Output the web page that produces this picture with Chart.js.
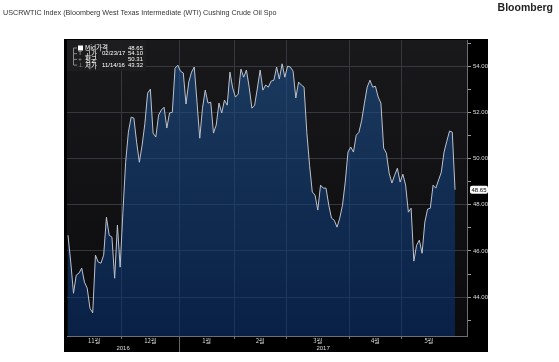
<!DOCTYPE html>
<html>
<head>
<meta charset="utf-8">
<script src="https://cdn.jsdelivr.net/npm/chart.js@4.4.1/dist/chart.umd.min.js"></script>
<style>
  html, body { margin: 0; padding: 0; background: #fff; }
  #wrap { position: relative; width: 559px; height: 362px; overflow: hidden; }
  #title { position: absolute; left: 3px; top: 8px; font: 7.2px "Liberation Sans", Arial, sans-serif; color: #333; white-space: nowrap; }
  #brand { position: absolute; right: 6px; top: 1px; font: bold 10.5px "Liberation Sans", Arial, sans-serif; color: #222; }
  canvas { position: absolute; left: 0; top: 0; }
</style>
</head>
<body>
<div id="wrap">
  <canvas id="myChart" width="559" height="362"></canvas>
  <div id="title">USCRWTIC Index (Bloomberg West Texas Intermediate (WTI) Cushing Crude Oil Spo</div>
  <div id="brand">Bloomberg</div>
</div>
<script>
  // WTI Cushing spot, one value per trading day (Nov 2016 - May 2017)
  const prices = [
    46.68, 45.52, 44.17, 44.95, 45.04, 45.26, 44.65, 44.39, 43.52, 43.32,
    45.82, 45.52, 45.47, 45.82, 47.46, 46.68, 46.60, 44.82, 47.12, 45.30,
    47.68, 49.84, 51.14, 51.79, 51.75, 50.71, 49.84, 50.58, 51.50, 52.83,
    53.00, 51.10, 50.93, 51.88, 52.10, 52.22, 51.32, 51.97, 52.00, 53.91,
    54.04, 53.78, 53.70, 52.36, 53.31, 53.74, 53.96, 52.44, 50.88, 52.18,
    52.96, 52.40, 52.44, 51.10, 51.45, 52.40, 51.97, 52.53, 52.31, 53.74,
    53.05, 52.66, 52.79, 53.87, 53.52, 53.83, 53.09, 52.18, 52.31, 53.05,
    53.83, 52.96, 53.18, 53.09, 53.35, 53.39, 53.96, 53.44, 54.10, 53.52,
    54.00, 53.96, 53.78, 52.62, 53.31, 53.18, 53.09, 51.14, 49.71, 48.55,
    48.42, 47.77, 48.85, 48.72, 48.72, 47.98, 47.42, 47.33, 47.03, 47.42,
    47.98, 48.98, 50.28, 50.50, 50.28, 51.01, 51.14, 51.66, 52.40, 53.09,
    53.39, 53.09, 53.13, 52.66, 52.40, 50.45, 50.23, 49.37, 48.94, 49.28,
    49.58, 48.98, 49.32, 48.85, 47.68, 47.85, 45.56, 46.25, 46.47, 45.90,
    47.25, 47.81, 47.85, 48.85, 48.72, 49.07, 49.41, 50.28, 50.75, 51.19,
    51.14, 48.65
  ];
  const monthLabels = ['11월', '12월', '1월', '2월', '3월', '4월', '5월'];
  const monthStarts = [0, 20, 41, 61, 80, 103, 122];
  const yearLabels = ['2016', '2017'];
  const yearStarts = [0, 41];
  const yTicks = [43, 44, 45, 46, 47, 48, 49, 50, 51, 52, 53, 54, 55];
  const legendRows = [
    ['Mid가격', '', '48.65'],
    ['고가', '02/23/17', '54.10'],
    ['평균', '', '50.31'],
    ['저가', '11/14/16', '43.32']
  ];

  const xMin = -0.364, xMax = 145.36;
  const lastIdx = prices.length - 1;
  const monthEnds = monthStarts.slice(1).map(v => v - 0.5).concat([lastIdx + 0.5]);
  const monthCenters = monthStarts.map((s, i) => (s - 0.5 + monthEnds[i]) / 2);
  const yearEnds = yearStarts.slice(1).map(v => v - 0.5).concat([xMax]);
  const yearCenters = yearStarts.map((s, i) => (Math.max(s - 0.5, xMin) + yearEnds[i]) / 2);
  const cjk = '"Noto Sans CJK KR", "Liberation Sans", Arial, sans-serif';
  const latin = '"Liberation Sans", Arial, sans-serif';

  const bloombergBg = {
    id: 'bloombergBg',
    beforeDraw(chart) {
      const { ctx, chartArea: a } = chart;
      ctx.save();
      ctx.fillStyle = '#000';
      ctx.fillRect(a.left - 3, a.top - 1, a.right - a.left + 24, a.bottom - a.top + 17);
      const g = ctx.createLinearGradient(0, a.top, 0, a.bottom);
      g.addColorStop(0, '#19191b');
      g.addColorStop(1, '#0b0b0d');
      ctx.fillStyle = g;
      ctx.fillRect(a.left, a.top, a.right - a.left, a.bottom - a.top);
      ctx.restore();
    },
    afterDraw(chart) {
      const { ctx, chartArea: a, scales } = chart;
      ctx.save();
      // year separator below axis
      yearStarts.slice(1).forEach(s => {
        const px = Math.round(scales.x.getPixelForValue(s - 0.5)) + 0.5;
        ctx.strokeStyle = '#666';
        ctx.lineWidth = 1;
        ctx.beginPath();
        ctx.moveTo(px, a.bottom);
        ctx.lineTo(px, a.bottom + 16);
        ctx.stroke();
      });
      // last price tag
      const last = prices[lastIdx];
      const py = scales.y.getPixelForValue(last);
      ctx.fillStyle = '#fff';
      ctx.beginPath();
      ctx.roundRect(a.right + 3, py - 4, 18, 8, 2);
      ctx.fill();
      ctx.fillStyle = '#000';
      ctx.font = '6px ' + latin;
      ctx.textAlign = 'center';
      ctx.textBaseline = 'middle';
      ctx.fillText(last.toFixed(2), a.right + 12, py + 0.5);
      // stats box
      const bx = a.left, by = a.top;
      ctx.fillStyle = 'rgba(30,30,32,0.95)';
      ctx.fillRect(bx, by, 79, 31);
      ctx.strokeStyle = '#888';
      ctx.beginPath();
      ctx.moveTo(bx + 6.5, by + 8);
      ctx.lineTo(bx + 6.5, by + 25);
      ctx.stroke();
      ctx.textBaseline = 'middle';
      legendRows.forEach((r, i) => {
        const ry = by + 8 + i * 5.7;
        ctx.strokeStyle = '#888';
        ctx.beginPath();
        ctx.moveTo(bx + 6.5, ry);
        ctx.lineTo(bx + 10, ry);
        ctx.stroke();
        ctx.font = '6px ' + latin;
        if (i === 0) {
          ctx.fillStyle = '#fff';
          ctx.fillRect(bx + 11, ry - 2.5, 5, 5);
        } else {
          ctx.fillStyle = '#aaa';
          ctx.textAlign = 'center';
          ctx.fillText(['', 'T', '+', '⊥'][i], bx + 13, ry);
        }
        ctx.fillStyle = '#fff';
        ctx.textAlign = 'left';
        ctx.font = '6.5px ' + cjk;
        ctx.fillText(r[0], bx + 18, ry);
        ctx.font = '6px ' + latin;
        if (r[1]) ctx.fillText(r[1], bx + 35, ry);
        ctx.textAlign = 'right';
        ctx.fillText(r[2], bx + 76, ry);
      });
      ctx.restore();
    }
  };

  const ctx = document.getElementById('myChart').getContext('2d');
  const myChart = new Chart(ctx, {
    type: 'line',
    data: {
      datasets: [{
        data: prices.map((v, i) => ({ x: i, y: v })),
        borderColor: '#bcc2cc',
        borderWidth: 1,
        pointRadius: 0,
        tension: 0,
        fill: 'start',
        backgroundColor: (c) => {
          const a = c.chart.chartArea;
          if (!a) return 'rgba(20,70,130,0.55)';
          const g = c.chart.ctx.createLinearGradient(0, a.top, 0, a.bottom);
          g.addColorStop(0, 'rgba(30,82,145,0.58)');
          g.addColorStop(1, 'rgba(8,48,110,0.58)');
          return g;
        }
      }]
    },
    options: {
      responsive: false,
      animation: false,
      devicePixelRatio: 1,
      layout: { padding: { left: 67, top: 40, right: 71, bottom: 10 } },
      plugins: { legend: { display: false }, tooltip: { enabled: false } },
      scales: {
        x: {
          type: 'linear', position: 'bottom', min: xMin, max: xMax, weight: 0,
          afterBuildTicks: s => { s.ticks = monthStarts.slice(1).map(v => ({ value: v - 0.5 })); },
          ticks: { display: false },
          grid: { color: '#35383f', tickLength: 3, tickColor: '#777' },
          border: { color: '#6a6e76' },
          afterFit: s => { s.height = 0; }
        },
        xm: {
          type: 'linear', position: 'bottom', min: xMin, max: xMax, weight: 1,
          afterBuildTicks: s => { s.ticks = monthCenters.map(v => ({ value: v })); },
          ticks: {
            color: '#ddd', font: { size: 6, family: cjk }, padding: 1,
            autoSkip: false, maxRotation: 0,
            callback: (v, i) => monthLabels[i]
          },
          grid: { display: false, drawTicks: false },
          border: { display: false },
          afterFit: s => { s.height = 9; }
        },
        xy: {
          type: 'linear', position: 'bottom', min: xMin, max: xMax, weight: 2,
          afterBuildTicks: s => { s.ticks = yearCenters.map(v => ({ value: v })); },
          ticks: {
            color: '#ddd', font: { size: 6, family: latin }, padding: 0,
            autoSkip: false, maxRotation: 0,
            callback: (v, i) => yearLabels[i]
          },
          grid: { display: false, drawTicks: false },
          border: { display: false },
          afterFit: s => { s.height = 7; }
        },
        y: {
          position: 'right', min: 42.32, max: 55.13,
          afterBuildTicks: s => { s.ticks = yTicks.map(v => ({ value: v })); },
          ticks: {
            color: '#ddd', font: { size: 6, family: latin },
            padding: 2, autoSkip: false,
            callback: v => (v % 2 === 0 ? v.toFixed(2) : '')
          },
          grid: {
            color: c => (c.tick && c.tick.value % 2 === 0 ? '#35383f' : 'rgba(0,0,0,0)'),
            tickColor: '#999', tickLength: 4
          },
          border: { color: '#6a6e76' },
          afterFit: s => { s.width = 21; }
        }
      }
    },
    plugins: [bloombergBg]
  });
</script>
</body>
</html>
